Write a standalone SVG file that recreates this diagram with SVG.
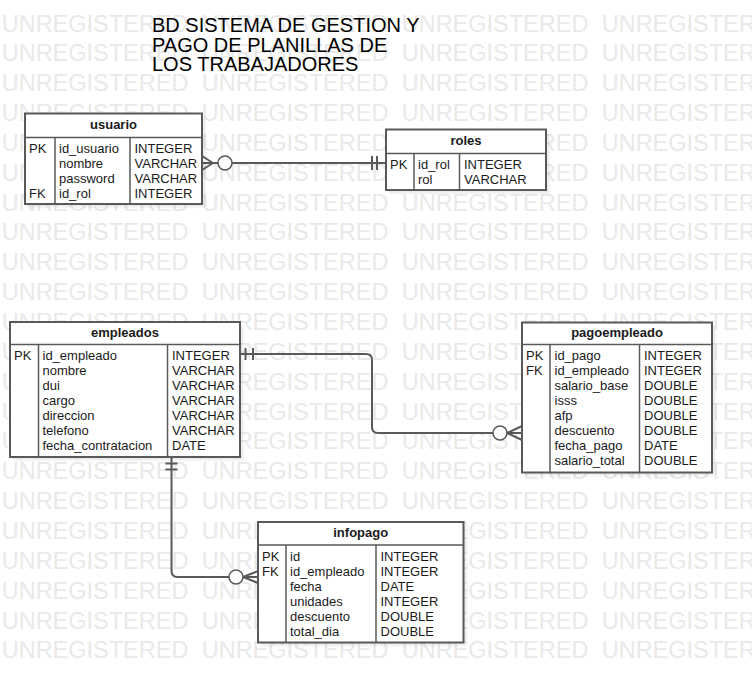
<svg xmlns="http://www.w3.org/2000/svg" width="752" height="682" viewBox="0 0 752 682">
<defs>
<style>
text{font-family:"Liberation Sans",Arial,Helvetica,sans-serif;}
.wm{font-size:23.5px;fill:#e9e9e9;}
.title{font-size:20px;fill:#000;}
.box{fill:#fff;stroke:#595959;stroke-width:2;}
.sh{fill:#000;fill-opacity:0.09;filter:url(#blur);}
.div{stroke:#595959;stroke-width:1.5;fill:none;}
.hd{font-size:13px;font-weight:bold;fill:#1a1a1a;text-anchor:middle;}
.t{font-size:13px;fill:#1a1a1a;}
.ln{stroke:#595959;stroke-width:2;fill:none;}
.circ{stroke:#595959;stroke-width:1.5;fill:#fff;}
</style>
<filter id="blur" x="-10%" y="-10%" width="120%" height="120%"><feGaussianBlur stdDeviation="1.5"/></filter>
</defs>
<rect width="752" height="682" fill="#fff"/>
<g id="watermark" class="wm">
<text y="31.5"><tspan x="1.7">UNREGISTERED</tspan><tspan x="201.7">UNREGISTERED</tspan><tspan x="401.7">UNREGISTERED</tspan><tspan x="601.7">UNREGISTERED</tspan></text>
<text y="61.35"><tspan x="1.7">UNREGISTERED</tspan><tspan x="201.7">UNREGISTERED</tspan><tspan x="401.7">UNREGISTERED</tspan><tspan x="601.7">UNREGISTERED</tspan></text>
<text y="91.2"><tspan x="1.7">UNREGISTERED</tspan><tspan x="201.7">UNREGISTERED</tspan><tspan x="401.7">UNREGISTERED</tspan><tspan x="601.7">UNREGISTERED</tspan></text>
<text y="121.05"><tspan x="1.7">UNREGISTERED</tspan><tspan x="201.7">UNREGISTERED</tspan><tspan x="401.7">UNREGISTERED</tspan><tspan x="601.7">UNREGISTERED</tspan></text>
<text y="150.9"><tspan x="1.7">UNREGISTERED</tspan><tspan x="201.7">UNREGISTERED</tspan><tspan x="401.7">UNREGISTERED</tspan><tspan x="601.7">UNREGISTERED</tspan></text>
<text y="180.75"><tspan x="1.7">UNREGISTERED</tspan><tspan x="201.7">UNREGISTERED</tspan><tspan x="401.7">UNREGISTERED</tspan><tspan x="601.7">UNREGISTERED</tspan></text>
<text y="210.6"><tspan x="1.7">UNREGISTERED</tspan><tspan x="201.7">UNREGISTERED</tspan><tspan x="401.7">UNREGISTERED</tspan><tspan x="601.7">UNREGISTERED</tspan></text>
<text y="240.45"><tspan x="1.7">UNREGISTERED</tspan><tspan x="201.7">UNREGISTERED</tspan><tspan x="401.7">UNREGISTERED</tspan><tspan x="601.7">UNREGISTERED</tspan></text>
<text y="270.3"><tspan x="1.7">UNREGISTERED</tspan><tspan x="201.7">UNREGISTERED</tspan><tspan x="401.7">UNREGISTERED</tspan><tspan x="601.7">UNREGISTERED</tspan></text>
<text y="300.15"><tspan x="1.7">UNREGISTERED</tspan><tspan x="201.7">UNREGISTERED</tspan><tspan x="401.7">UNREGISTERED</tspan><tspan x="601.7">UNREGISTERED</tspan></text>
<text y="330"><tspan x="1.7">UNREGISTERED</tspan><tspan x="201.7">UNREGISTERED</tspan><tspan x="401.7">UNREGISTERED</tspan><tspan x="601.7">UNREGISTERED</tspan></text>
<text y="359.85"><tspan x="1.7">UNREGISTERED</tspan><tspan x="201.7">UNREGISTERED</tspan><tspan x="401.7">UNREGISTERED</tspan><tspan x="601.7">UNREGISTERED</tspan></text>
<text y="389.7"><tspan x="1.7">UNREGISTERED</tspan><tspan x="201.7">UNREGISTERED</tspan><tspan x="401.7">UNREGISTERED</tspan><tspan x="601.7">UNREGISTERED</tspan></text>
<text y="419.55"><tspan x="1.7">UNREGISTERED</tspan><tspan x="201.7">UNREGISTERED</tspan><tspan x="401.7">UNREGISTERED</tspan><tspan x="601.7">UNREGISTERED</tspan></text>
<text y="449.4"><tspan x="1.7">UNREGISTERED</tspan><tspan x="201.7">UNREGISTERED</tspan><tspan x="401.7">UNREGISTERED</tspan><tspan x="601.7">UNREGISTERED</tspan></text>
<text y="479.25"><tspan x="1.7">UNREGISTERED</tspan><tspan x="201.7">UNREGISTERED</tspan><tspan x="401.7">UNREGISTERED</tspan><tspan x="601.7">UNREGISTERED</tspan></text>
<text y="509.1"><tspan x="1.7">UNREGISTERED</tspan><tspan x="201.7">UNREGISTERED</tspan><tspan x="401.7">UNREGISTERED</tspan><tspan x="601.7">UNREGISTERED</tspan></text>
<text y="538.95"><tspan x="1.7">UNREGISTERED</tspan><tspan x="201.7">UNREGISTERED</tspan><tspan x="401.7">UNREGISTERED</tspan><tspan x="601.7">UNREGISTERED</tspan></text>
<text y="568.8"><tspan x="1.7">UNREGISTERED</tspan><tspan x="201.7">UNREGISTERED</tspan><tspan x="401.7">UNREGISTERED</tspan><tspan x="601.7">UNREGISTERED</tspan></text>
<text y="598.65"><tspan x="1.7">UNREGISTERED</tspan><tspan x="201.7">UNREGISTERED</tspan><tspan x="401.7">UNREGISTERED</tspan><tspan x="601.7">UNREGISTERED</tspan></text>
<text y="628.5"><tspan x="1.7">UNREGISTERED</tspan><tspan x="201.7">UNREGISTERED</tspan><tspan x="401.7">UNREGISTERED</tspan><tspan x="601.7">UNREGISTERED</tspan></text>
<text y="658.35"><tspan x="1.7">UNREGISTERED</tspan><tspan x="201.7">UNREGISTERED</tspan><tspan x="401.7">UNREGISTERED</tspan><tspan x="601.7">UNREGISTERED</tspan></text>
</g>
<g id="title" class="title">
<text x="152" y="32">BD SISTEMA DE GESTION Y</text>
<text x="152" y="51.5">PAGO DE PLANILLAS DE</text>
<text x="152" y="71">LOS TRABAJADORES</text>
</g>
<g id="connectors">
<g id="usuario-roles">
<line class="ln" x1="202" y1="163" x2="218" y2="163"/>
<line class="ln" x1="202" y1="156" x2="213" y2="163"/>
<line class="ln" x1="202" y1="170" x2="213" y2="163"/>
<line class="ln" x1="232" y1="163" x2="386" y2="163"/>
<circle class="circ" cx="225" cy="163" r="7"/>
<line class="ln" x1="372" y1="156" x2="372" y2="170"/>
<line class="ln" x1="377" y1="156" x2="377" y2="170"/>
</g>
<g id="empleados-pagoempleado">
<path class="ln" d="M240,354 H366 Q372,354 372,360 V427 Q372,433 378,433 H493"/>
<line class="ln" x1="245.5" y1="348" x2="245.5" y2="360"/>
<line class="ln" x1="253" y1="348" x2="253" y2="360"/>
<circle class="circ" cx="500" cy="433" r="7"/>
<line class="ln" x1="507" y1="433" x2="522" y2="433"/>
<line class="ln" x1="522" y1="426" x2="507" y2="433"/>
<line class="ln" x1="522" y1="440" x2="507" y2="433"/>
</g>
<g id="empleados-infopago">
<path class="ln" d="M171.5,457 V571 Q171.5,577 177.5,577 H229"/>
<line class="ln" x1="165.5" y1="463.5" x2="177.5" y2="463.5"/>
<line class="ln" x1="165.5" y1="469.5" x2="177.5" y2="469.5"/>
<circle class="circ" cx="236" cy="577" r="7"/>
<line class="ln" x1="243" y1="577" x2="258" y2="577"/>
<line class="ln" x1="258" y1="571" x2="243" y2="577"/>
<line class="ln" x1="258" y1="583" x2="243" y2="577"/>
</g>
</g>
<g id="usuario">
<rect class="sh" x="28" y="116.5" width="177" height="90.5"/>
<rect class="box" x="25" y="113.5" width="177" height="90.5"/>
<path class="div" d="M25,137.5 H202 M55,137.5 V204 M130,137.5 V204"/>
<text class="hd" x="113.5" y="129">usuario</text>
<text class="t" x="29" y="152.5">PK</text>
<text class="t" x="29" y="197.5">FK</text>
<text class="t" x="59"><tspan x="59" y="152.5">id_usuario</tspan><tspan x="59" y="167.5">nombre</tspan><tspan x="59" y="182.5">password</tspan><tspan x="59" y="197.5">id_rol</tspan></text>
<text class="t"><tspan x="134.5" y="152.5">INTEGER</tspan><tspan x="134.5" y="167.5">VARCHAR</tspan><tspan x="134.5" y="182.5">VARCHAR</tspan><tspan x="134.5" y="197.5">INTEGER</tspan></text>
</g>
<g id="roles">
<rect class="sh" x="389" y="132.5" width="160" height="60.5"/>
<rect class="box" x="386" y="129.5" width="160" height="60.5"/>
<path class="div" d="M386,153.5 H546 M414,153.5 V190 M459.5,153.5 V190"/>
<text class="hd" x="466" y="145">roles</text>
<text class="t" x="390" y="168.5">PK</text>
<text class="t"><tspan x="418" y="168.5">id_rol</tspan><tspan x="418" y="183.5">rol</tspan></text>
<text class="t"><tspan x="464" y="168.5">INTEGER</tspan><tspan x="464" y="183.5">VARCHAR</tspan></text>
</g>
<g id="empleados">
<rect class="sh" x="13" y="325" width="230" height="135"/>
<rect class="box" x="10" y="322" width="230" height="135"/>
<path class="div" d="M10,344.5 H240 M38.5,344.5 V457 M167.5,344.5 V457"/>
<text class="hd" x="125" y="337">empleados</text>
<text class="t" x="14" y="360">PK</text>
<text class="t"><tspan x="42.5" y="360">id_empleado</tspan><tspan x="42.5" y="375">nombre</tspan><tspan x="42.5" y="390">dui</tspan><tspan x="42.5" y="405">cargo</tspan><tspan x="42.5" y="420">direccion</tspan><tspan x="42.5" y="435">telefono</tspan><tspan x="42.5" y="450">fecha_contratacion</tspan></text>
<text class="t"><tspan x="172" y="360">INTEGER</tspan><tspan x="172" y="375">VARCHAR</tspan><tspan x="172" y="390">VARCHAR</tspan><tspan x="172" y="405">VARCHAR</tspan><tspan x="172" y="420">VARCHAR</tspan><tspan x="172" y="435">VARCHAR</tspan><tspan x="172" y="450">DATE</tspan></text>
</g>
<g id="pagoempleado">
<rect class="sh" x="525" y="325.5" width="190" height="150"/>
<rect class="box" x="522" y="322.5" width="190" height="150"/>
<path class="div" d="M522,344.5 H712 M550,344.5 V472.5 M639.5,344.5 V472.5"/>
<text class="hd" x="617" y="337">pagoempleado</text>
<text class="t"><tspan x="526" y="360">PK</tspan><tspan x="526" y="375">FK</tspan></text>
<text class="t"><tspan x="554.5" y="360">id_pago</tspan><tspan x="554.5" y="375">id_empleado</tspan><tspan x="554.5" y="390">salario_base</tspan><tspan x="554.5" y="405">isss</tspan><tspan x="554.5" y="420">afp</tspan><tspan x="554.5" y="435">descuento</tspan><tspan x="554.5" y="450">fecha_pago</tspan><tspan x="554.5" y="465">salario_total</tspan></text>
<text class="t"><tspan x="644" y="360">INTEGER</tspan><tspan x="644" y="375">INTEGER</tspan><tspan x="644" y="390">DOUBLE</tspan><tspan x="644" y="405">DOUBLE</tspan><tspan x="644" y="420">DOUBLE</tspan><tspan x="644" y="435">DOUBLE</tspan><tspan x="644" y="450">DATE</tspan><tspan x="644" y="465">DOUBLE</tspan></text>
</g>
<g id="infopago">
<rect class="sh" x="261" y="525" width="205.5" height="120.5"/>
<rect class="box" x="258" y="522" width="205.5" height="120.5"/>
<path class="div" d="M258,545 H463.5 M286,545 V642.5 M376,545 V642.5"/>
<text class="hd" x="360.7" y="537.3">infopago</text>
<text class="t"><tspan x="262" y="560.5">PK</tspan><tspan x="262" y="575.5">FK</tspan></text>
<text class="t"><tspan x="290" y="560.5">id</tspan><tspan x="290" y="575.5">id_empleado</tspan><tspan x="290" y="590.5">fecha</tspan><tspan x="290" y="605.5">unidades</tspan><tspan x="290" y="620.5">descuento</tspan><tspan x="290" y="635.5">total_dia</tspan></text>
<text class="t"><tspan x="380.5" y="560.5">INTEGER</tspan><tspan x="380.5" y="575.5">INTEGER</tspan><tspan x="380.5" y="590.5">DATE</tspan><tspan x="380.5" y="605.5">INTEGER</tspan><tspan x="380.5" y="620.5">DOUBLE</tspan><tspan x="380.5" y="635.5">DOUBLE</tspan></text>
</g>
</svg>
